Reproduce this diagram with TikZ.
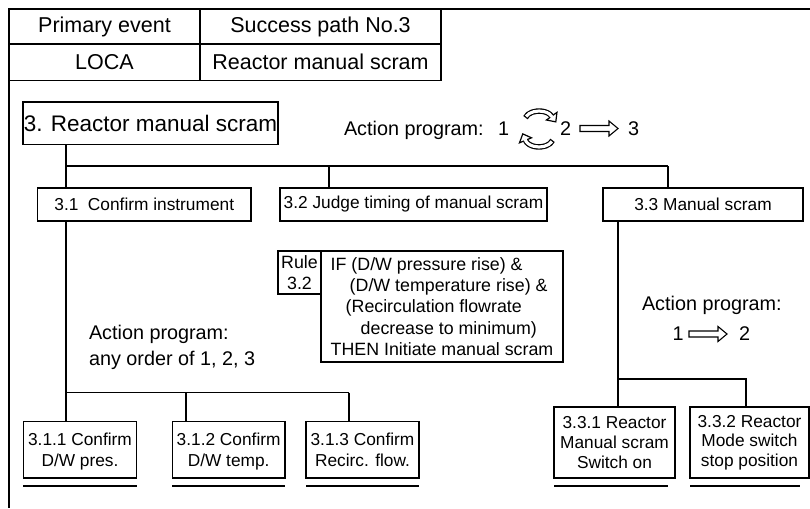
\documentclass[tikz,border=0pt]{standalone}
\usepackage{fontspec}
\setmainfont{Liberation Sans}
\usetikzlibrary{calc}
\newcommand\fsz[2]{\fontsize{#1}{#2}\selectfont}
\tikzset{
  box/.style={draw, inner sep=0pt, outer sep=0pt, align=center},
  txt/.style={inner sep=0pt, outer sep=0pt, anchor=base west},
  hollowarrow/.pic={
    \draw[line width=1.1pt, line join=miter, fill=white]
      (0,-3) -- (29,-3) -- (29,-7.5) -- (38,0) -- (29,7.5) -- (29,3) -- (0,3) -- cycle;
  }
}
\begin{document}
\begin{tikzpicture}[x=1pt, y=-1pt, line width=1.3pt]
\fill[white] (0,0) rectangle (810,508);
\useasboundingbox (0,0) rectangle (810,508);

% header table
\node[box, minimum width=191pt, minimum height=35pt, font=\fsz{21.5}{24}] (pe) at (104.5,26.5) {Primary event};
\node[box, minimum width=241pt, minimum height=35pt, font=\fsz{21.5}{24}] (sp) at (320.5,26.5) {Success path No.3};
\node[box, minimum width=191pt, minimum height=36.5pt, font=\fsz{21.5}{24}] (loca) at (104.5,62.25) {LOCA};
\node[box, minimum width=241pt, minimum height=36.5pt, font=\fsz{21.5}{24}] (rms) at (320.5,62.25) {Reactor manual scram};

% outer frame
\coordinate (frameTR) at (810,9);
\coordinate (frameBL) at (9,508);
\draw (frameTR) -- (pe.north west) -- (frameBL);

% top level
\node[box, minimum width=255pt, minimum height=42.5pt, font=\fsz{22.5}{26}] (top) at (150.5,123.25) {3. Reactor manual scram};

\node[txt, font=\fsz{19.8}{24}] (ap) at (344,135) {Action program:};
\node[txt, font=\fsz{19.8}{24}] (n1) at (498,135) {1};
\node[txt, font=\fsz{19.8}{24}] (n2) at (560,135) {2};
\node[txt, font=\fsz{19.8}{24}] (n3) at (628,135) {3};
\pic at (580,128.5) {hollowarrow};

% cyclic arrows between 1 and 2
\begin{scope}[shift={(539,120)}, y=1pt]
  \draw[line width=5.5pt] (165:14 and 9) arc[start angle=165, end angle=25, x radius=14, y radius=9];
  \filldraw[fill=white, line width=1.2pt, line join=miter] (17.95,7.62) -- (16.80,-1.86) -- (7.43,-0.02) -- cycle;
  \draw[white, line width=3.1pt] (157:14 and 9) arc[start angle=157, end angle=19, x radius=14, y radius=9];
\end{scope}
\begin{scope}[shift={(539,138)}, y=1pt]
  \draw[line width=5.5pt] (-15:14 and 9) arc[start angle=-15, end angle=-165, x radius=14, y radius=9];
  \filldraw[fill=white, line width=1.2pt, line join=miter] (-7.52,0.17) -- (-16.22,4.13) -- (-19.52,-4.83) -- cycle;
  \draw[white, line width=3.1pt] (-23:14 and 9) arc[start angle=-23, end angle=-171, x radius=14, y radius=9];
\end{scope}

% second level
\node[box, minimum width=213.5pt, minimum height=33pt, font=\fsz{17.3}{20}] (b31) at (144.25,204.5) {3.1\hspace{0.55em}Confirm instrument};
\node[box, minimum width=267pt, minimum height=33pt, font=\fsz{17.3}{20}] (b32) at (413.5,204.5) {3.2 Judge timing of manual scram};
\node[box, minimum width=200pt, minimum height=33pt, font=\fsz{17.3}{20}] (b33) at (703,204.5) {3.3 Manual scram};

\coordinate (busA) at (66,166);
\coordinate (busB) at (329,166);
\coordinate (busC) at (668,166);
\draw (top.south -| busA) -- (b31.north -| busA);
\draw (busA) -- (busC);
\draw (busB) -- (busB |- b32.north);
\draw (busC) -- (busC |- b33.north);

% rule 3.2
\node[box, minimum width=43pt, minimum height=43pt, font=\fsz{17.8}{21}] (rl) at (299.5,272.5) {Rule\\3.2};
\node[box, align=left, minimum width=242pt, minimum height=111pt, font=\fsz{17.8}{21.2}] (rb) at (442,306.5)
  {IF (D/W pressure rise) \&\\
   \hspace*{19pt}(D/W temperature rise) \&\\
   \hspace*{15pt}(Recirculation flowrate\\
   \hspace*{30pt}decrease to minimum)\\
   THEN Initiate manual scram};

% action programs of 3.1 and 3.3
\node[txt, font=\fsz{19.8}{24}] (ap31) at (89,339) {Action program:};
\node[txt, font=\fsz{19.8}{24}] (ord31) at (89,365) {any order of 1, 2, 3};
\node[txt, font=\fsz{19.8}{24}] (ap33) at (642,310.7) {Action program:};
\node[txt, font=\fsz{19.8}{24}] (m1) at (672.5,340.7) {1};
\node[txt, font=\fsz{19.8}{24}] (m2) at (739,340.7) {2};
\pic at (689,334) {hollowarrow};

% third level under 3.1
\node[box, minimum width=113.4pt, minimum height=56.5pt, font=\fsz{17.3}{20.6}, text depth=-2pt] (b311) at (80,449.75) {3.1.1 Confirm\\D/W pres.};
\node[box, minimum width=112.7pt, minimum height=56.5pt, font=\fsz{17.3}{20.6}, text depth=-2pt] (b312) at (228.65,449.75) {3.1.2 Confirm\\D/W temp.};
\node[box, minimum width=113pt, minimum height=56.5pt, font=\fsz{17.3}{20.6}, text depth=-2pt] (b313) at (362.5,449.75) {3.1.3 Confirm\\Recirc. flow.};

\coordinate (busD) at (66,392.5);
\coordinate (busE) at (186,392.5);
\coordinate (busF) at (349,392.5);
\draw (b31.south -| busD) -- (b311.north -| busD);
\draw (busD) -- (busF);
\draw (busE) -- (busE |- b312.north);
\draw (busF) -- (busF |- b313.north);

% third level under 3.3
\node[box, minimum width=121pt, minimum height=71pt, font=\fsz{17.3}{19.6}] (b331) at (614.5,442.5) {3.3.1 Reactor\\Manual scram\\Switch on};
\node[box, minimum width=119pt, minimum height=71pt, font=\fsz{17.3}{19.6}] (b332) at (749.5,442.5) {3.3.2 Reactor\\Mode switch\\stop position};

\coordinate (busG) at (618,379);
\coordinate (busH) at (746,379);
\draw (b33.south -| busG) -- (b331.north -| busG);
\draw (busG) -- (busH) -- (busH |- b332.north);

% underlines of the leaf tasks
\draw ([yshift=-8pt]b311.south west) -- ([yshift=-8pt]b311.south east);
\draw ([yshift=-8pt]b312.south west) -- ([yshift=-8pt]b312.south east);
\draw ([yshift=-8pt]b313.south west) -- ([yshift=-8pt]b313.south east);
\draw ([yshift=-8pt]b331.south west) -- ([yshift=-8pt,xshift=-7pt]b331.south east);
\draw ([yshift=-8pt]b332.south west) -- ([yshift=-8pt,xshift=-9pt]b332.south east);
\end{tikzpicture}
\end{document}
